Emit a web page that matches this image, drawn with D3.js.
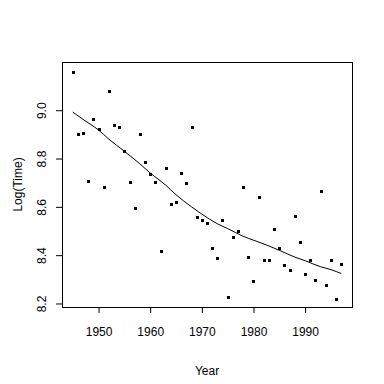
<!DOCTYPE html>
<html><head><meta charset="utf-8">
<script src="https://cdn.jsdelivr.net/npm/d3@7"></script>
<style>body{margin:0;background:#fff}svg{display:block}text{font-family:"Liberation Sans",Arial,sans-serif;}</style>
</head><body>
<script>
const years = d3.range(1945, 1998);
const logTime = [9.157,8.900,8.905,8.706,8.963,8.921,8.681,9.080,8.938,8.931,
  8.830,8.703,8.594,8.900,8.784,8.736,8.703,8.416,8.760,8.610,
  8.619,8.739,8.699,8.931,8.556,8.544,8.532,8.428,8.387,8.544,
  8.226,8.474,8.498,8.682,8.391,8.291,8.639,8.379,8.379,8.510,
  8.428,8.358,8.337,8.561,8.453,8.324,8.382,8.299,8.664,8.275,
  8.378,8.217,8.362];
const smoothYears = [1945,1947,1950,1952,1955,1958,1960,1963,1965,1968,1970,1973,1975,1978,1980,1983,1985,1988,1990,1993,1995,1997];
const smoothVals  = [8.992,8.962,8.918,8.880,8.830,8.778,8.740,8.690,8.650,8.600,8.570,8.530,8.510,8.478,8.462,8.438,8.420,8.392,8.377,8.352,8.340,8.324];
const xTicks = [1950,1960,1970,1980,1990];
const yTicks = [8.2,8.4,8.6,8.8,9.0];

const W=384,H=384, L=62, R=352, T=62, B=307;
const svg = d3.select("body").append("svg").attr("width",W).attr("height",H);
const x = d3.scaleLinear().domain([1942.92,1999.08]).range([L,R]);
const y = d3.scaleLinear().domain([8.1854,9.1996]).range([B,T]);

const xAxis = svg.append("g").attr("transform",`translate(0,${B})`)
  .call(d3.axisBottom(x).tickValues(xTicks).tickFormat(d3.format("d")).tickSize(6).tickPadding(14));
const yAxis = svg.append("g").attr("transform",`translate(${L},0)`)
  .call(d3.axisLeft(y).tickValues(yTicks).tickFormat(d3.format(".1f")).tickSize(6).tickPadding(0));
[xAxis,yAxis].forEach(g=>{g.select(".domain").remove();
  g.selectAll("line").attr("stroke","#000");
  g.selectAll("text").attr("fill","#000").style("font-size","12px");});
yAxis.selectAll(".tick text").attr("text-anchor","middle").attr("dy",null)
  .attr("x",null).attr("transform","translate(-16,0) rotate(-90)");

svg.append("rect").attr("x",L+0.5).attr("y",T+0.5).attr("width",R-L).attr("height",B-T)
  .attr("fill","none").attr("stroke","#000").attr("stroke-width",1);

svg.append("g").selectAll("rect").data(years).join("rect")
  .attr("x",(d)=>Math.round(x(d))-1).attr("y",(d,i)=>Math.round(y(logTime[i]))-1)
  .attr("width",3).attr("height",3).attr("fill","#000");

svg.append("path").datum(smoothYears.map((d,i)=>[d,smoothVals[i]]))
  .attr("d",d3.line().x(d=>x(d[0])).y(d=>y(d[1])).curve(d3.curveMonotoneX))
  .attr("fill","none").attr("stroke","#000").attr("stroke-width",1);

svg.append("text").attr("x",(L+R)/2).attr("y",375).attr("text-anchor","middle").style("font-size","12px").text("Year");
svg.append("text").attr("transform",`translate(18,${(T+B)/2}) rotate(-90)`).attr("text-anchor","middle").attr("dy","0.35em").style("font-size","12px").text("Log(Time)");
</script>
</body></html>
